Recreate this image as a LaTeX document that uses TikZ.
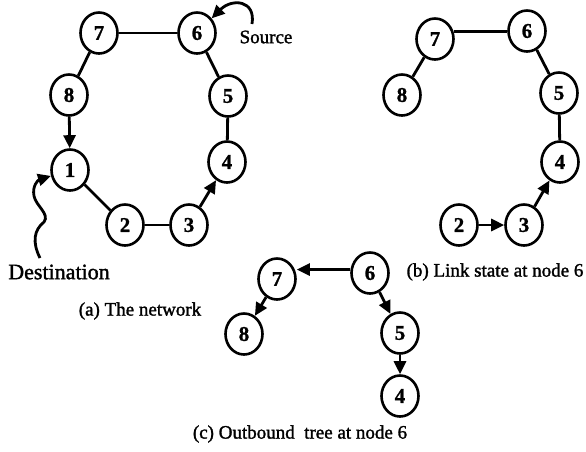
\documentclass[tikz,border=0pt]{standalone}
\usepackage{fontspec}
\setmainfont{Liberation Serif}
\newfontfamily\heavyserif{Liberation Serif}[FakeBold=1.5]
\newfontfamily\digitserif{Liberation Serif Bold}[FakeBold=1]
\usetikzlibrary{arrows.meta,shapes.geometric}

\tikzset{
  vtx/.style={draw, ellipse, line width=2.6pt, minimum width=37pt, minimum height=41pt,
              inner sep=0pt, font=\fontsize{21}{21}\digitserif},
  lnk/.style={line width=2.8pt},
  arr/.style={line width=2.8pt, -{Triangle[length=13pt,width=12pt]}},
  captxt/.style={font=\fontsize{19}{19}\heavyserif, inner sep=0pt},
}

\begin{document}
\begin{tikzpicture}[x=1pt, y=-1pt]
  \useasboundingbox (0,0) rectangle (586,451);

  % (a) the network
  \node[vtx] (a7) at (99,33)  {7};
  \node[vtx] (a6) at (197,33) {6};
  \node[vtx] (a8) at (69,95)  {8};
  \node[vtx] (a5) at (228,96) {5};
  \node[vtx] (a4) at (227,162) {4};
  \node[vtx] (a1) at (70,170) {1};
  \node[vtx] (a2) at (125,225) {2};
  \node[vtx] (a3) at (189,225) {3};

  \draw[lnk] (a7) -- (a6);
  \draw[lnk] (a7) -- (a8);
  \draw[arr] (a8) -- (a1);
  \draw[lnk] (a1) -- (a2);
  \draw[lnk] (a2) -- (a3);
  \draw[arr] (a3) -- (a4);
  \draw[lnk] (a4) -- (a5);
  \draw[lnk] (a5) -- (a6);

  \node[captxt] (srclbl) at (266,37) {Source};
  \coordinate (srcstart) at (252,24);
  \draw[arr] (srcstart) .. controls (256,0) and (232,-2) .. (a6);

  \node[captxt, font=\fontsize{22}{22}\heavyserif] (dstlbl) at (59,272) {Destination};
  \coordinate (dststart) at (40,258);
  \draw[arr] (dststart) .. controls (32,242) and (34,230) .. (44,222)
                        .. controls (50,214) and (36,206) .. (34,196)
                        .. controls (32,186) and (38,180) .. (a1);

  \node[captxt] (capa) at (140,311) {(a) The network};

  % (b) link state at node 6
  \node[vtx] (b7) at (435,39) {7};
  \node[vtx] (b6) at (527,31) {6};
  \node[vtx] (b8) at (402,95) {8};
  \node[vtx] (b5) at (559,93) {5};
  \node[vtx] (b4) at (560,162) {4};
  \node[vtx] (b3) at (524,225) {3};
  \node[vtx] (b2) at (459,225) {2};

  \draw[lnk] (b7.22) -- (b7.22 -| b6.west);
  \draw[lnk] (b7) -- (b8);
  \draw[lnk] (b6) -- (b5);
  \draw[lnk] (b5) -- (b4);
  \draw[arr] (b3) -- (b4);
  \draw[arr] (b2) -- (b3);

  \node[captxt] (capb) at (495,272) {(b) Link state at node 6};

  % (c) outbound tree at node 6
  \node[vtx] (c7) at (277,279) {7};
  \node[vtx] (c6) at (370,273) {6};
  \node[vtx] (c8) at (244,334) {8};
  \node[vtx] (c5) at (400,333) {5};
  \node[vtx] (c4) at (400,396) {4};

  \draw[arr] (c6.170) -- (c6.170 -| c7.east);
  \draw[arr] (c7) -- (c8);
  \draw[arr] (c6) -- (c5);
  \draw[arr] (c5) -- (c4);

  \node[captxt] (capc) at (300,434) {(c) Outbound\ \ tree at node 6};
\end{tikzpicture}
\end{document}
